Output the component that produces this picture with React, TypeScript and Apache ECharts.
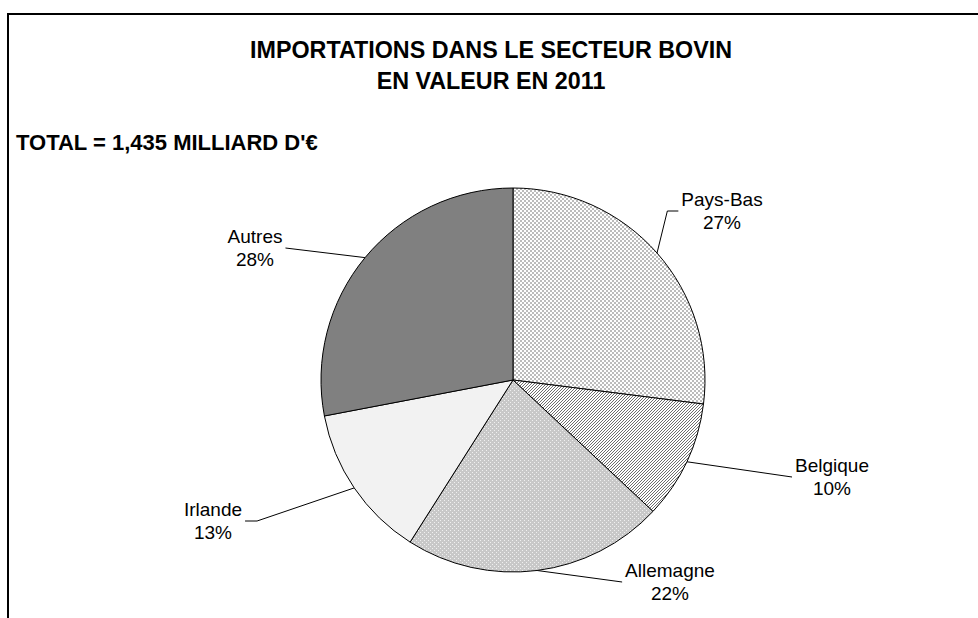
import React, { useEffect, useRef } from "react";
import * as echarts from "echarts";

const categories = ["Pays-Bas", "Belgique", "Allemagne", "Irlande", "Autres"];
const values = [27, 10, 22, 13, 28];
const titleLines = ["IMPORTATIONS DANS LE SECTEUR BOVIN", "EN VALEUR EN 2011"];
const subtitle = "TOTAL = 1,435 MILLIARD D'€";

// label placement (layout, not data)
const labelCenters = [
  [722, 211],
  [832, 477],
  [670, 582],
  [213, 521],
  [255, 248],
];
const labelTails = [11, 0, 0, 12, 0];

const FONT = "'Liberation Sans', Arial, Helvetica, sans-serif";

function makePattern(kind: string) {
  const c = document.createElement("canvas");
  const w = kind === "hatch" ? 3 : 4;
  const h = w;
  c.width = w;
  c.height = h;
  const ctx = c.getContext("2d")!;
  if (kind === "checker") {
    ctx.fillStyle = "#ffffff";
    ctx.fillRect(0, 0, 4, 4);
    ctx.fillStyle = "#bcbcbc";
    ctx.fillRect(0, 0, 2, 2);
    ctx.fillRect(2, 2, 2, 2);
  } else if (kind === "hatch") {
    ctx.fillStyle = "#ffffff";
    ctx.fillRect(0, 0, 3, 3);
    ctx.fillStyle = "#6e6e6e";
    ctx.fillRect(2, 0, 1, 1);
    ctx.fillRect(1, 1, 1, 1);
    ctx.fillRect(0, 2, 1, 1);
  } else if (kind === "dots") {
    ctx.fillStyle = "#c8c8c8";
    ctx.fillRect(0, 0, 4, 4);
    ctx.fillStyle = "#f0f0f0";
    ctx.fillRect(0, 0, 1, 1);
    ctx.fillRect(2, 2, 1, 1);
  }
  return { image: c, repeat: "repeat", imageWidth: w, imageHeight: h } as any;
}

export default function App() {
  const ref = useRef<HTMLDivElement>(null);
  useEffect(() => {
    if (!ref.current) return;
    const chart = echarts.init(ref.current, undefined, { renderer: "svg" });
    const fills: any[] = [
      makePattern("checker"),
      makePattern("hatch"),
      makePattern("dots"),
      "#f2f2f2",
      "#808080",
    ];
    const option: any = {
      animation: false,
      backgroundColor: "#ffffff",
      title: [
        {
          text: titleLines.join("\n"),
          left: 491,
          textAlign: "center",
          top: 34,
          padding: 0,
          textStyle: {
            fontFamily: FONT,
            fontSize: 23.3,
            fontWeight: "bold",
            color: "#000",
            lineHeight: 31,
          },
        },
        {
          text: subtitle,
          left: 16,
          top: 131,
          padding: 0,
          textStyle: {
            fontFamily: FONT,
            fontSize: 22,
            fontWeight: "bold",
            color: "#000",
            lineHeight: 22,
          },
        },
      ],
      graphic: [
        {
          type: "rect",
          shape: { x: 8, y: 14, width: 1100, height: 800 },
          style: { fill: "none", stroke: "#000", lineWidth: 2 },
          silent: true,
          z: 10,
        },
      ],
      series: [
        {
          type: "pie",
          center: [513, 380],
          radius: 192,
          startAngle: 90,
          clockwise: true,
          avoidLabelOverlap: false,
          data: categories.map((name, i) => ({
            name,
            value: values[i],
            itemStyle: { color: fills[i] },
          })),
          itemStyle: { borderColor: "#000", borderWidth: 1 },
          emphasis: { disabled: true },
          label: {
            show: true,
            position: "outside",
            formatter: "{b}\n{d}%",
            fontFamily: FONT,
            fontSize: 19,
            lineHeight: 23.5,
            color: "#000",
            align: "center",
          },
          labelLine: {
            show: true,
            length: 20,
            length2: 10,
            lineStyle: { color: "#000", width: 1 },
          },
          labelLayout: (params: any) => {
            const i = params.dataIndex;
            const [cx, cy] = labelCenters[i];
            const w = params.labelRect.width;
            const onRight = cx > 513;
            const endX = onRight ? cx - w / 2 - 3 : cx + w / 2 + 3;
            const elbowX = onRight ? endX - labelTails[i] : endX + labelTails[i];
            const p0 = params.labelLinePoints
              ? params.labelLinePoints[0]
              : [cx, cy];
            return {
              x: cx,
              y: cy,
              align: "center",
              verticalAlign: "middle",
              labelLinePoints: [p0, [elbowX, cy], [endX, cy]],
            };
          },
        },
      ],
    };
    chart.setOption(option);
    return () => chart.dispose();
  }, []);
  return (
    <div
      ref={ref}
      style={{ position: "absolute", left: 0, top: 0, width: 978, height: 618, background: "#fff" }}
    />
  );
}
